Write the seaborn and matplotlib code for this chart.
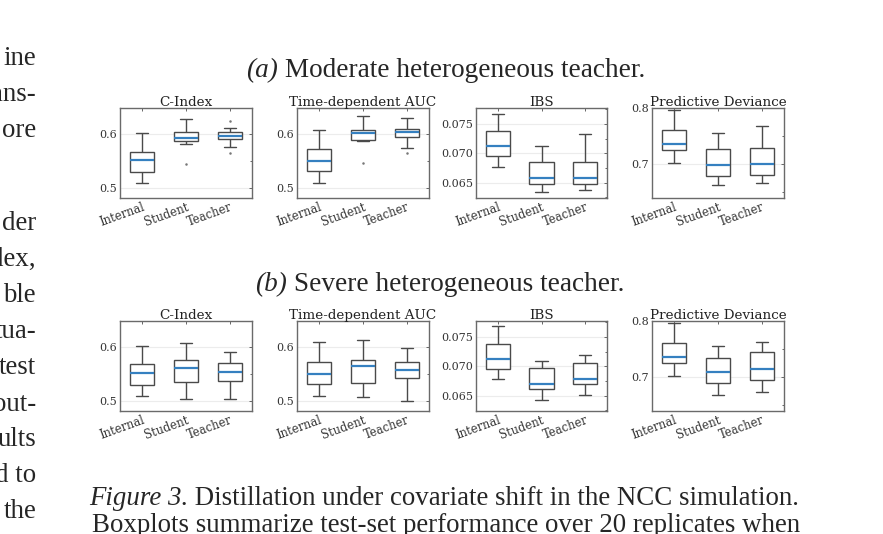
import numpy as np
import pandas as pd
import matplotlib
matplotlib.use("Agg")
import matplotlib.pyplot as plt
import seaborn as sns
from matplotlib.ticker import AutoMinorLocator, FormatStrFormatter

# groups and panel titles
groups = ["Internal", "Student", "Teacher"]
metrics = ["C-Index", "Time-dependent AUC", "IBS", "Predictive Deviance"]

# five-number summaries: [whisker low, q1, median, q3, whisker high]
# (a) moderate heterogeneous teacher
a_cindex = [[0.509, 0.529, 0.551, 0.567, 0.601],
            [0.582, 0.586, 0.593, 0.604, 0.628],
            [0.575, 0.591, 0.596, 0.603, 0.610]]
a_cindex_out = [[], [0.544], [0.565, 0.623]]
a_auc = [[0.508, 0.532, 0.549, 0.571, 0.608],
         [0.586, 0.589, 0.601, 0.608, 0.633],
         [0.573, 0.594, 0.603, 0.609, 0.629]]
a_auc_out = [[], [0.546], [0.565]]
a_ibs = [[0.0677, 0.0696, 0.0712, 0.0738, 0.0767],
         [0.0634, 0.0648, 0.0658, 0.0686, 0.0712],
         [0.0638, 0.0648, 0.0658, 0.0686, 0.0732]]
a_dev = [[0.702, 0.725, 0.735, 0.760, 0.797],
         [0.662, 0.678, 0.698, 0.726, 0.756],
         [0.666, 0.680, 0.700, 0.729, 0.767]]

# (b) severe heterogeneous teacher
b_cindex = [[0.509, 0.530, 0.552, 0.568, 0.601],
            [0.503, 0.535, 0.560, 0.575, 0.608],
            [0.504, 0.536, 0.553, 0.570, 0.591]]
b_auc = [[0.508, 0.532, 0.550, 0.572, 0.609],
         [0.507, 0.533, 0.565, 0.576, 0.613],
         [0.499, 0.542, 0.557, 0.572, 0.597]]
b_ibs = [[0.0678, 0.0696, 0.0713, 0.0738, 0.0768],
         [0.0643, 0.0661, 0.0670, 0.0697, 0.0709],
         [0.0652, 0.0670, 0.0679, 0.0706, 0.0719]]
b_dev = [[0.702, 0.725, 0.736, 0.760, 0.796],
         [0.668, 0.689, 0.709, 0.733, 0.756],
         [0.673, 0.695, 0.715, 0.744, 0.762]]

no_out = [[], [], []]

ylims = [(0.481, 0.648), (0.481, 0.648), (0.0624, 0.0777), (0.639, 0.800)]
yticks = [[0.5, 0.6], [0.5, 0.6], [0.065, 0.070, 0.075], [0.7, 0.8]]
yfmt = ["%.1f", "%.1f", "%.3f", "%.1f"]

# fragments of the body text column cut by the left edge
left_lines = ["ine", "ans-", "ore", "der", "dex,", "ble", "tua-", "test", "out-", "ults", "d to", "the"]
left_base = [65, 101, 137, 229.5, 265.5, 301.5, 338, 374, 411, 446.5, 482, 518.5]


def to_points(summ, outs):
    """9 points per group so that the quartiles come out as read"""
    rows = []
    for g, s, o in zip(groups, summ, outs):
        lo = [v for v in o if v < s[0]]
        hi = [v for v in o if v > s[4]]
        pts = [lo[0] if lo else s[0], s[0], s[1], s[1], s[2], s[3], s[3], s[4], hi[0] if hi else s[4]]
        rows += [(g, v) for v in pts]
    return pd.DataFrame(rows, columns=["group", "value"])


sns.set_style("white")
plt.rcParams["font.family"] = ["DejaVu Serif"]

fig = plt.figure(figsize=(8.83, 5.34), dpi=100)
W, H = 883, 534

xs = [120, 297, 476, 652]
ws = [132, 132, 131, 132]
rows = [(108, [(a_cindex, a_cindex_out), (a_auc, a_auc_out), (a_ibs, no_out), (a_dev, no_out)]),
        (321, [(b_cindex, no_out), (b_auc, no_out), (b_ibs, no_out), (b_dev, no_out)])]

for top, panels in rows:
    for i, (summ, outs) in enumerate(panels):
        ax = fig.add_axes([xs[i] / W, 1 - (top + 90) / H, ws[i] / W, 90 / H])
        df = to_points(summ, outs)
        sns.boxplot(data=df, x="group", y="value", ax=ax, width=0.55, color="white",
                    linecolor="#4a4a4a", linewidth=1.0, whis=1.5,
                    medianprops=dict(color="#3580c0", linewidth=1.6),
                    flierprops=dict(marker="o", markersize=1.8, markerfacecolor="#777777",
                                    markeredgecolor="none"))
        ax.set_ylim(*ylims[i])
        ax.set_yticks(yticks[i])
        ax.yaxis.set_major_formatter(FormatStrFormatter(yfmt[i]))
        ax.yaxis.set_minor_locator(AutoMinorLocator(2))
        ax.set_xlim(-0.5, 2.5)
        ax.set_xlabel("")
        ax.set_ylabel("")
        ax.set_title(metrics[i], fontsize=9.7, pad=1.5, color="#222222")
        ax.grid(axis="y", color="#ececec", linewidth=0.8)
        ax.set_axisbelow(True)
        ax.tick_params(which="both", direction="in", top=True, right=True,
                       length=2.5, width=0.7, color="#666666", labelsize=8, labelcolor="#333333", pad=2)
        ax.tick_params(which="minor", length=1.5)
        for lab in ax.get_xticklabels():
            lab.set_rotation(20)
            lab.set_ha("right")
            lab.set_rotation_mode("anchor")
            lab.set_fontsize(8.3)
        for sp in ax.spines.values():
            sp.set_color("#6a6a6a")
            sp.set_linewidth(1.0)

# surrounding page text
serif = ["Liberation Serif", "DejaVu Serif"]
renderer = fig.canvas.get_renderer()


def mixed(x, y, first, rest, size, center=False):
    t1 = fig.text(x / W, 1 - y / H, first, fontsize=size, family=serif, style="italic",
                  ha="left", va="baseline")
    t2 = fig.text(x / W, 1 - y / H, rest, fontsize=size, family=serif, ha="left", va="baseline")
    w1 = t1.get_window_extent(renderer).width
    w2 = t2.get_window_extent(renderer).width
    x0 = x - (w1 + w2) / 2 if center else x
    t1.set_x(x0 / W)
    t2.set_x((x0 + w1) / W)


mixed(445.5, 77, "(a)", " Moderate heterogeneous teacher.", 19.6, center=True)
mixed(439.5, 291, "(b)", " Severe heterogeneous teacher.", 19.6, center=True)
mixed(89, 505, "Figure 3.", " Distillation under covariate shift in the NCC simulation.", 19.4)
fig.text(91.5 / W, 1 - 531.5 / H, "Boxplots summarize test-set performance over 20 replicates when",
         fontsize=19.4, family=serif, ha="left", va="baseline")

for s, yb in zip(left_lines, left_base):
    fig.text(36 / W, 1 - yb / H, s, fontsize=19.4, family=serif, ha="right", va="baseline")

fig.savefig("out.png", dpi=100)
